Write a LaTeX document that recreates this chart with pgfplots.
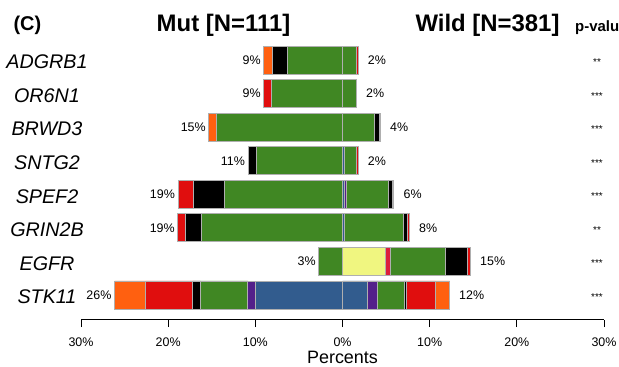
\documentclass[border=0pt]{standalone}
\usepackage{pgfplots}
\usepackage{pgfplotstable}
\pgfplotsset{compat=1.18}
\usepackage{fontspec}
\setmainfont{Liberation Sans}
\definecolor{cOrange}{RGB}{255,96,16}
\definecolor{cRed}{RGB}{224,14,14}
\definecolor{cGreen}{RGB}{64,135,35}
\definecolor{cPurple}{RGB}{83,32,138}
\definecolor{cBlue}{RGB}{50,92,142}
\definecolor{cYellow}{RGB}{240,246,128}
\definecolor{cCrimson}{RGB}{220,30,60}
\definecolor{bordergray}{RGB}{175,175,175}

% Mut (left, negative) -- segments listed from the centre outwards
\pgfplotstableread{
y blue purple green black red orange tot lab
8 0 0 -6.35 -1.72 0 -0.96 -9.03 9
7 0 0 -8.14 0 -0.88 0 -9.02 9
6 0 0 -14.45 0 0 -0.88 -15.33 15
5 0 0 -9.90 -0.92 0 0 -10.82 11
4 0 0 -13.50 -3.64 -1.72 0 -18.86 19
3 0 0 -16.20 -1.80 -0.88 0 -18.88 19
2 0 0 -2.72 0 0 0 -2.72 3
1 -9.94 -0.92 -5.43 -0.88 -5.39 -3.59 -26.15 26
}\mut

% Wild (right, positive)
\pgfplotstableread{
y yellow blue purple crimson green black red orange tot lab
8 0 0 0 0 1.55 0 0.25 0 1.80 2
7 0 0 0 0 1.60 0 0 0 1.60 2
6 0 0 0 0 3.67 0.53 0.15 0 4.35 4
5 0 0.25 0 0 1.35 0 0.20 0 1.80 2
4 0 0.25 0.20 0 4.77 0.48 0 0.20 5.90 6
3 0 0.25 0 0 6.75 0.42 0.27 0 7.69 8
2 4.93 0 0 0.57 6.31 2.56 0.31 0 14.68 15
1 0 2.83 1.22 0 3.04 0.23 3.36 1.60 12.28 12
}\wild

\begin{document}
\begin{tikzpicture}
\useasboundingbox (0,0) rectangle (619bp,367bp);
\pgfplotsset{
  geom/.style={scale only axis, width=523bp, height=279.5bp,
    at={(81bp,47.5bp)}, anchor=south west,
    xmin=-30, xmax=30, ymin=0.27, ymax=8.596, clip=false},
  base/.style={geom, xbar stacked, bar width=28bp},
  seg/.style={draw=bordergray, line width=0.9bp, fill=#1},
}
\begin{axis}[base,
  axis x line=bottom, axis y line=left,
  y axis line style={draw=none},
  x axis line style={-, black, line width=0.8bp},
  xtick={-30,-20,...,30},
  xticklabels={30\%,20\%,10\%,0\%,10\%,20\%,30\%},
  tick align=outside, major tick length=7.5bp,
  xtick style={black, line width=0.8bp},
  ytick={1,...,8},
  yticklabels={STK11,EGFR,GRIN2B,SPEF2,SNTG2,BRWD3,OR6N1,ADGRB1},
  ytick style={draw=none},
  yticklabel style={font=\itshape\fontsize{19.8}{19.8}\selectfont, anchor=center, xshift=-26.5bp, yshift=-2bp},
  xticklabel style={font=\fontsize{12.5}{12.5}\selectfont, yshift=-7bp},
  xlabel={Percents},
  xlabel style={font=\fontsize{18}{18}\selectfont, yshift=2bp},
]
\addplot[seg=cBlue] table[x=blue, y=y] {\mut};
\addplot[seg=cPurple] table[x=purple, y=y] {\mut};
\addplot[seg=cGreen] table[x=green, y=y] {\mut};
\addplot[seg=black] table[x=black, y=y] {\mut};
\addplot[seg=cRed] table[x=red, y=y] {\mut};
\addplot[seg=cOrange] table[x=orange, y=y] {\mut};
\end{axis}
\begin{axis}[base, hide axis]
\addplot[seg=cYellow] table[x=yellow, y=y] {\wild};
\addplot[seg=cBlue] table[x=blue, y=y] {\wild};
\addplot[seg=cPurple] table[x=purple, y=y] {\wild};
\addplot[seg=cCrimson] table[x=crimson, y=y] {\wild};
\addplot[seg=cGreen] table[x=green, y=y] {\wild};
\addplot[seg=black] table[x=black, y=y] {\wild};
\addplot[seg=cRed] table[x=red, y=y] {\wild};
\addplot[seg=cOrange] table[x=orange, y=y] {\wild};
\end{axis}
\begin{axis}[geom, hide axis]
\addplot[only marks, mark=none, point meta=explicit symbolic,
  nodes near coords={\pgfplotspointmeta\%},
  nodes near coords style={font=\fontsize{12.5}{12.5}\selectfont, anchor=east, inner sep=0pt, xshift=-3bp}]
  table[x=tot, y=y, meta=lab] {\mut};
\addplot[only marks, mark=none, point meta=explicit symbolic,
  nodes near coords={\pgfplotspointmeta\%},
  nodes near coords style={font=\fontsize{12.5}{12.5}\selectfont, anchor=west, inner sep=0pt, xshift=9.5bp}]
  table[x=tot, y=y, meta=lab] {\wild};
\node[font=\fontsize{10}{10}\selectfont, yshift=-2bp] at (axis cs:29.2,8) {**};
\node[font=\fontsize{10}{10}\selectfont, yshift=-2bp] at (axis cs:29.2,7) {***};
\node[font=\fontsize{10}{10}\selectfont, yshift=-2bp] at (axis cs:29.2,6) {***};
\node[font=\fontsize{10}{10}\selectfont, yshift=-2bp] at (axis cs:29.2,5) {***};
\node[font=\fontsize{10}{10}\selectfont, yshift=-2bp] at (axis cs:29.2,4) {***};
\node[font=\fontsize{10}{10}\selectfont, yshift=-2bp] at (axis cs:29.2,3) {**};
\node[font=\fontsize{10}{10}\selectfont, yshift=-2bp] at (axis cs:29.2,2) {***};
\node[font=\fontsize{10}{10}\selectfont, yshift=-2bp] at (axis cs:29.2,1) {***};
\end{axis}
\node[font=\bfseries\fontsize{20}{20}\selectfont, anchor=base west] at (10bp,336bp) {(C)};
\node[font=\bfseries\fontsize{24}{24}\selectfont, anchor=base] at (223.5bp,335bp) {Mut [N=111]};
\node[font=\bfseries\fontsize{24}{24}\selectfont, anchor=base] at (487.5bp,335bp) {Wild [N=381]};
\node[font=\bfseries\fontsize{15}{15}\selectfont, anchor=base west, inner sep=0pt] at (575bp,335bp) {p-value};
\end{tikzpicture}
\end{document}
